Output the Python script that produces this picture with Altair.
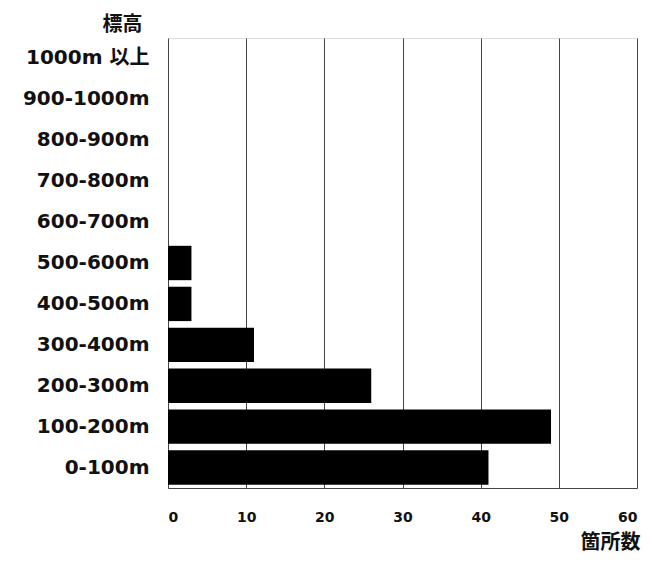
import altair as alt
import pandas as pd

categories = ["1000m 以上", "900-1000m", "800-900m", "700-800m", "600-700m",
              "500-600m", "400-500m", "300-400m", "200-300m", "100-200m", "0-100m"]
counts = [0, 0, 0, 0, 0, 3, 3, 11, 26, 49, 41]
x_ticks = [0, 10, 20, 30, 40, 50, 60]

df = pd.DataFrame({"標高": categories, "箇所数": counts})

FONT = "DejaVu Sans, Noto Sans CJK JP"
CJK = "Noto Sans CJK JP"

chart = alt.Chart(df).mark_bar(color="#000000").encode(
    y=alt.Y("標高:N", sort=categories,
            scale=alt.Scale(paddingInner=0.16, paddingOuter=0.08),
            axis=alt.Axis(title="標高", titleAngle=0, titleX=-46, titleY=-14,
                          titleAlign="center", titleBaseline="middle",
                          titleFont=CJK, titleFontSize=20, titleFontWeight="bold",
                          titleColor="#111",
                          labelFont=FONT, labelFontSize=20, labelFontWeight="bold",
                          labelColor="#111", labelPadding=19,
                          ticks=False, domain=False, grid=False)),
    x=alt.X("箇所数:Q",
            scale=alt.Scale(domain=[0, 60], nice=False),
            axis=alt.Axis(title="箇所数", values=x_ticks, titleX=442, titleY=54,
                          titleAlign="center", titleBaseline="middle",
                          titleFont=CJK, titleFontSize=20, titleFontWeight="bold",
                          titleColor="#111",
                          labelFont=FONT, labelFontSize=14, labelFontWeight="bold",
                          labelColor="#111", labelPadding=22,
                          ticks=False, domain=True, domainColor="#444",
                          grid=True, gridColor="#444", gridWidth=1, gridOpacity=1)),
).properties(
    width=469, height=450,
    autosize=alt.AutoSizeParams(type="none"),
    padding={"left": 160, "top": 30, "right": 9, "bottom": 66},
).configure_view(stroke="#444", strokeWidth=1.2).configure(background="white")

chart.save("out.html", embed_options={"renderer": "svg", "actions": False})
